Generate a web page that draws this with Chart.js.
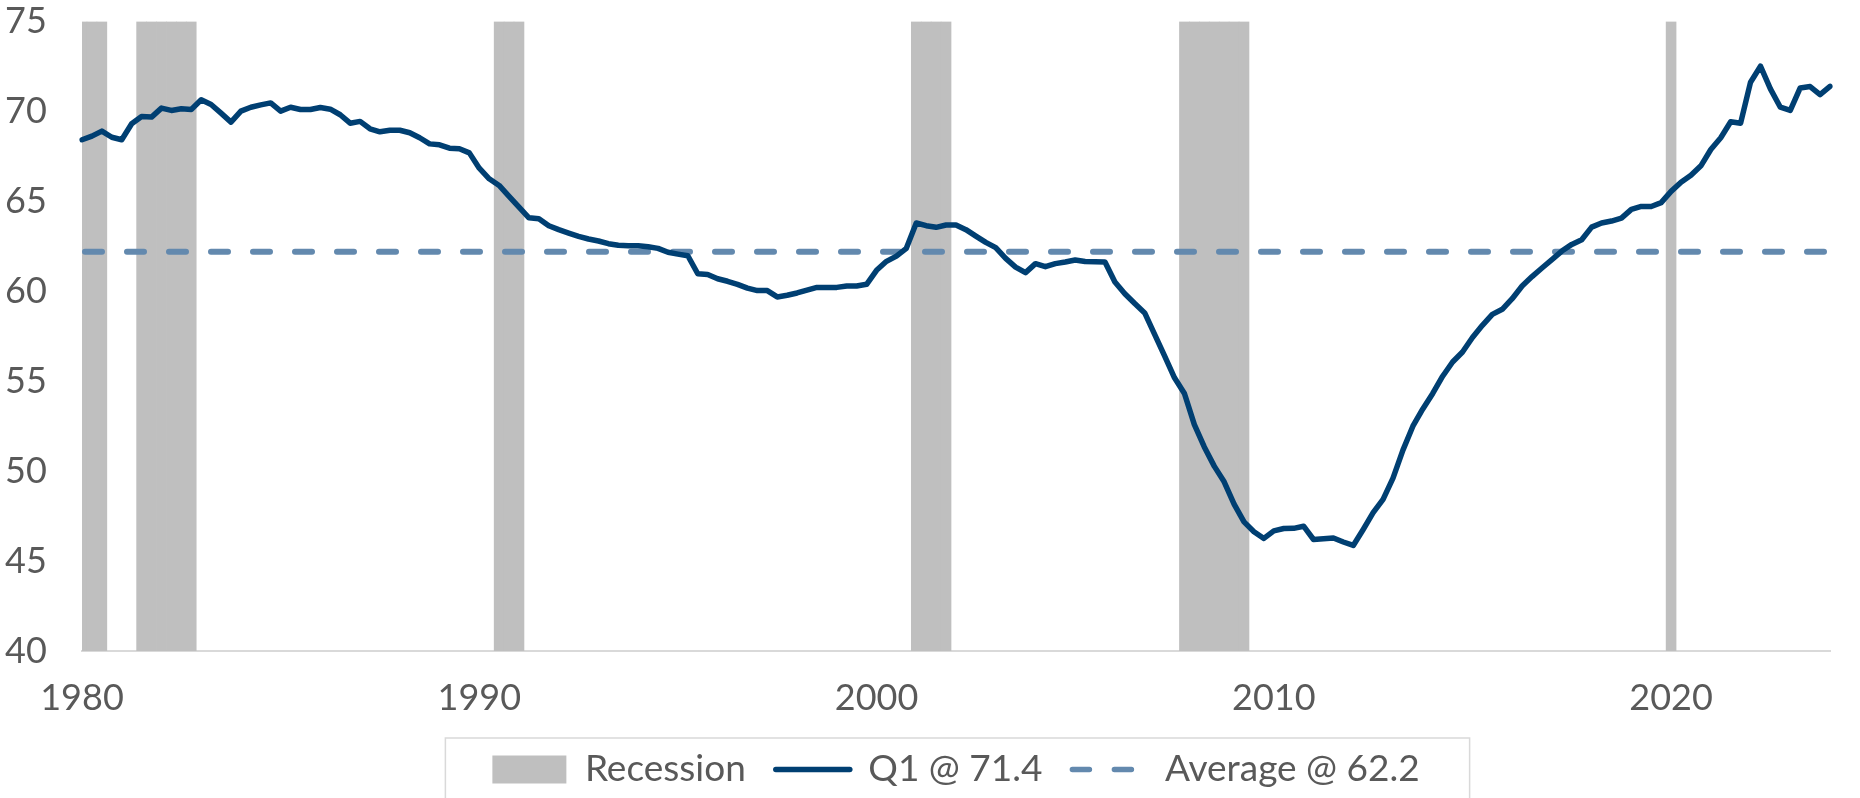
<!DOCTYPE html>
<html>
<head>
<meta charset="utf-8">
<script src="https://cdn.jsdelivr.net/npm/chart.js@4/dist/chart.umd.min.js"></script>
<style>
	body { margin: 0; background: #ffffff; }
	#contenedor { width: 1860px; height: 798px; position: relative; }
</style>
</head>
<body>
<div id="contenedor"><canvas id="grafico"></canvas></div>
<script>
// datos trimestrales, 1980Q1 .. 2024Q1
var anioInicio = 1980;
var totalTrimestres = 177;

var valoresQ1 = [
	68.43, 68.63, 68.91, 68.57, 68.43, 69.32, 69.72, 69.69, 70.19, 70.06,
	70.15, 70.11, 70.65, 70.39, 69.91, 69.41, 70.02, 70.24, 70.37, 70.48,
	70.02, 70.24, 70.11, 70.11, 70.22, 70.13, 69.82, 69.35, 69.45, 69.04,
	68.87, 68.96, 68.96, 68.82, 68.54, 68.20, 68.15, 67.96, 67.93, 67.70,
	66.85, 66.26, 65.89, 65.28, 64.68, 64.09, 64.04, 63.65, 63.43, 63.24,
	63.06, 62.91, 62.80, 62.65, 62.56, 62.54, 62.54, 62.48, 62.39, 62.17,
	62.07, 61.98, 60.98, 60.94, 60.70, 60.56, 60.39, 60.18, 60.04, 60.04,
	59.69, 59.78, 59.91, 60.07, 60.22, 60.22, 60.22, 60.30, 60.30, 60.39,
	61.17, 61.67, 61.96, 62.39, 63.80, 63.65, 63.56, 63.69, 63.69, 63.43,
	63.07, 62.72, 62.43, 61.83, 61.35, 61.04, 61.54, 61.37, 61.54, 61.63,
	61.74, 61.66, 61.64, 61.63, 60.52, 59.87, 59.32, 58.80, 57.61, 56.41,
	55.19, 54.32, 52.59, 51.35, 50.28, 49.41, 48.17, 47.18, 46.63, 46.26,
	46.68, 46.81, 46.82, 46.94, 46.20, 46.24, 46.28, 46.06, 45.87, 46.76,
	47.69, 48.43, 49.61, 51.17, 52.50, 53.46, 54.32, 55.28, 56.07, 56.63,
	57.43, 58.11, 58.72, 59.00, 59.59, 60.30, 60.82, 61.30, 61.76, 62.24,
	62.61, 62.87, 63.57, 63.80, 63.91, 64.07, 64.56, 64.72, 64.72, 64.93,
	65.56, 66.07, 66.45, 66.98, 67.89, 68.54, 69.43, 69.35, 71.63, 72.52,
	71.26, 70.24, 70.06, 71.31, 71.39, 70.94, 71.40
];

var promedio = 62.2;

var recesiones = [
	["1980Q1", "1980Q3"],
	["1981Q3", "1982Q4"],
	["1990Q3", "1991Q1"],
	["2001Q1", "2001Q4"],
	["2007Q4", "2009Q2"],
	["2020Q1", "2020Q1"]
];

var etiquetasEje = ["1980", "1990", "2000", "2010", "2020"];

var ejeMin = 40;
var ejeMax = 75;
var ejePaso = 5;

// categorias
var trimestres = [];
for(i=0; i<totalTrimestres; i++)
	trimestres.push((anioInicio + Math.floor(i/4)) + "Q" + (i%4 + 1));

function enRecesion(trim)
{
	for(var r=0; r<recesiones.length; r++)
	{
		var ini = trimestres.indexOf(recesiones[r][0]);
		var fin = trimestres.indexOf(recesiones[r][1]);
		var pos = trimestres.indexOf(trim);
		if(pos >= ini && pos <= fin)
			return true;
	}
	return false;
}

var datosRecesion = trimestres.map(function(t) { return enRecesion(t) ? ejeMax : null; });
var datosPromedio = trimestres.map(function() { return promedio; });

var bordeLeyenda = {
	id: 'bordeLeyenda',
	afterDraw: function(chart) {
		var cajas = chart.legend.legendHitBoxes;
		if(!cajas || cajas.length == 0)
			return;
		var ctx = chart.ctx;
		var primera = cajas[0];
		var ultima = cajas[cajas.length - 1];
		var izq = primera.left - 47;
		var der = ultima.left + ultima.width + 50;
		var arriba = primera.top - 13;
		var abajo = primera.top + primera.height + 11;
		ctx.save();
		ctx.strokeStyle = "#d9d9d9";
		ctx.lineWidth = 1.5;
		ctx.strokeRect(izq, arriba, der - izq, abajo - arriba);
		ctx.restore();
	}
};

Chart.defaults.font.family = "Lato";
Chart.defaults.font.size = 36;
Chart.defaults.color = "#595959";

var ctx = document.getElementById("grafico");
var grafico = new Chart(ctx, {
	data: {
		labels: trimestres,
		datasets: [
			{
				type: 'bar',
				label: "Recession",
				data: datosRecesion,
				backgroundColor: "#bfbfbf",
				borderWidth: 0,
				barPercentage: 1,
				categoryPercentage: 1,
				order: 3
			},
			{
				type: 'line',
				label: "Q1 @ " + valoresQ1[valoresQ1.length - 1].toFixed(1),
				data: valoresQ1,
				borderColor: "#003f72",
				borderWidth: 5.5,
				borderJoinStyle: 'round',
				borderCapStyle: 'round',
				pointRadius: 0,
				tension: 0,
				order: 1
			},
			{
				type: 'line',
				label: "Average @ " + promedio.toFixed(1),
				data: datosPromedio,
				borderColor: "#6389ae",
				borderWidth: 6,
				borderDash: [17, 25],
				borderDashOffset: -3,
				borderCapStyle: 'round',
				pointRadius: 0,
				order: 2
			}
		]
	},
	options: {
		responsive: true,
		maintainAspectRatio: false,
		animation: false,
		layout: {
			padding: { top: 20, right: 30, left: 5, bottom: 0 }
		},
		plugins: {
			tooltip: { enabled: false },
			legend: {
				position: 'bottom',
				fullSize: false,
				labels: {
					usePointStyle: true,
					pointStyleWidth: 74,
					boxHeight: 28,
					padding: 30,
					color: "#595959",
					font: { size: 37 },
					generateLabels: function(chart) {
						return chart.data.datasets.map(function(ds, i) {
							var esBarra = ds.type == 'bar';
							return {
								text: ds.label,
								datasetIndex: i,
								fillStyle: esBarra ? ds.backgroundColor : 'rgba(0,0,0,0)',
								strokeStyle: esBarra ? ds.backgroundColor : ds.borderColor,
								lineWidth: esBarra ? 0 : 5.5,
								lineDash: ds.borderDash || [],
								lineCap: esBarra ? 'butt' : 'round',
								pointStyle: esBarra ? 'rect' : 'line',
								fontColor: "#595959",
								hidden: false
							};
						});
					}
				}
			}
		},
		scales: {
			x: {
				type: 'category',
				offset: false,
				grid: { display: false, drawTicks: false },
				border: { display: true, color: "#d9d9d9", width: 2 },
				ticks: {
					autoSkip: false,
					maxRotation: 0,
					minRotation: 0,
					padding: 26,
					callback: function(value) {
						var lab = this.getLabelForValue(value);
						for(var k=0; k<etiquetasEje.length; k++)
						{
							if(lab == etiquetasEje[k] + "Q1")
								return etiquetasEje[k];
						}
						return "";
					}
				},
				afterFit: function(scale) { scale.height = 70; }
			},
			y: {
				min: ejeMin,
				max: ejeMax,
				grid: { display: false, drawTicks: false },
				border: { display: false },
				ticks: { stepSize: ejePaso, padding: 0, crossAlign: 'far' },
				afterFit: function(scale) { scale.width = 77; }
			}
		}
	},
	plugins: [bordeLeyenda]
});
</script>
</body>
</html>
